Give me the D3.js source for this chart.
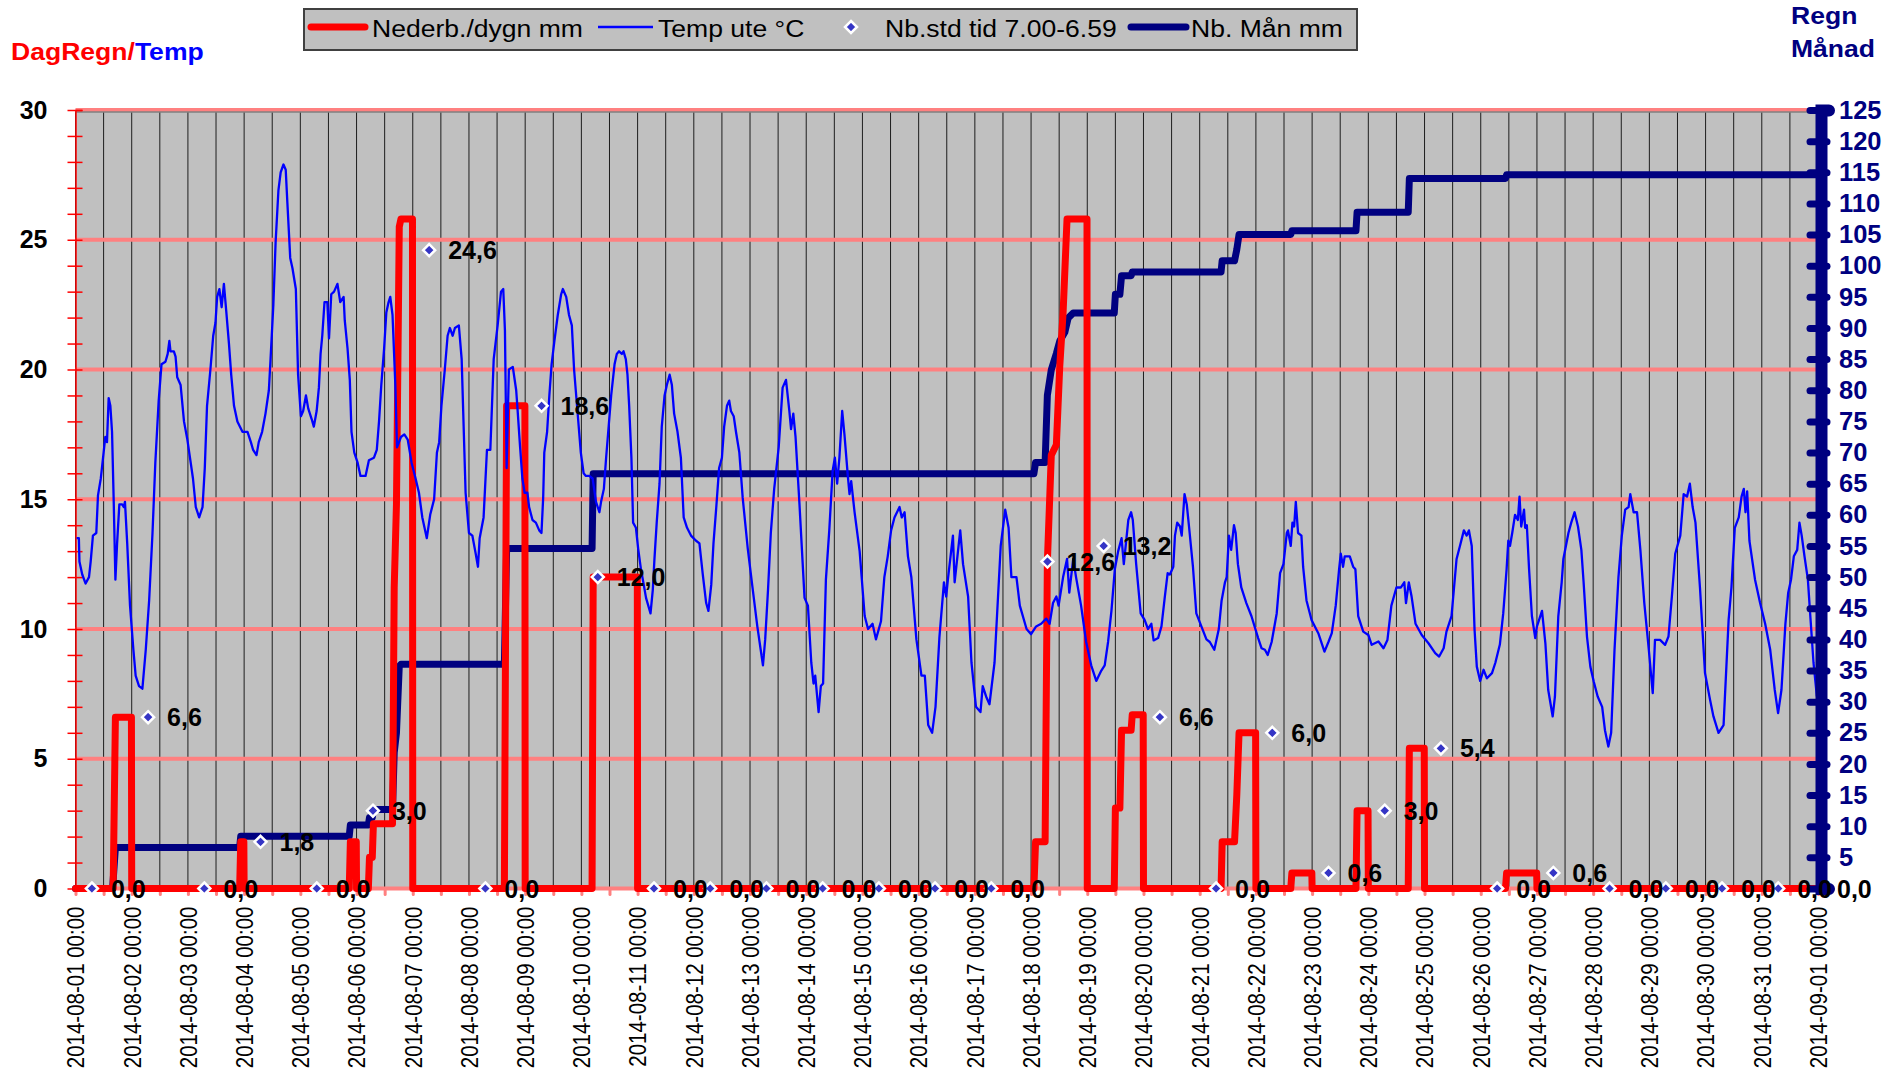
<!DOCTYPE html>
<html><head><meta charset="utf-8">
<script src="https://cdn.jsdelivr.net/npm/d3@7"></script>
<style>body{margin:0;background:#fff;overflow:hidden} svg{display:block}</style>
</head><body>
<svg id="chart" width="1901" height="1075"></svg>
<script>
// ---------------- DATA (time = days since 2014-08-01 00:00) ----------------
const periodStart = "2014-08-01";
const periodEnd = "2014-09-01";
const leftTicks = [0, 5, 10, 15, 20, 25, 30];
const rightTicks = d3.range(0, 130, 5);
const legendLabels = ["Nederb./dygn mm", "Temp ute °C", "Nb.std tid 7.00-6.59", "Nb. Mån mm"];
const leftTitle = ["DagRegn/", "Temp"];
const rightTitle = ["Regn", "Månad"];

// daily rain totals 7.00-6.59, one per day (marker at 07:00; last one at period end)
const dailyTotals = [0.0, 6.6, 0.0, 1.8, 0.0, 3.0, 24.6, 0.0, 18.6, 12.0, 0.0, 0.0, 0.0, 0.0, 0.0, 0.0,
  0.0, 12.6, 13.2, 6.6, 0.0, 6.0, 0.6, 3.0, 5.4, 0.0, 0.6, 0.0, 0.0, 0.0, 0.0, 0.0];

// rain accumulated within each day (mm), left axis
const dailyRain = [
  [0,0],[0.67,0],[0.71,6.6],[0.995,6.6],[1.0,0],
  [2.92,0],[2.94,1.8],[2.995,1.8],[3.0,0],
  [4.87,0],[4.89,1.8],[4.995,1.8],[5.0,0],
  [5.21,0],[5.23,1.2],[5.28,1.2],[5.30,2.5],[5.64,2.5],[5.67,11.6],[5.71,14.8],[5.76,25.5],[5.79,25.8],[5.995,25.8],[6.0,0],
  [7.63,0],[7.67,18.6],[7.995,18.6],[8.0,0],
  [9.19,0],[9.21,12.0],[9.995,12.0],[10.0,0],
  [17.05,0],[17.08,1.8],[17.25,1.8],[17.29,12.6],[17.36,16.7],[17.45,17.1],[17.51,20.1],[17.57,22.2],[17.64,25.8],[17.995,25.8],[18.0,0],
  [18.48,0],[18.50,3.1],[18.58,3.1],[18.61,6.1],[18.78,6.1],[18.80,6.7],[18.995,6.7],[19.0,0],
  [20.38,0],[20.40,1.8],[20.62,1.8],[20.66,3.6],[20.70,6.0],[20.995,6.0],[21.0,0],
  [21.62,0],[21.64,0.6],[21.995,0.6],[22.0,0],
  [22.78,0],[22.80,3.0],[22.995,3.0],[23.0,0],
  [23.71,0],[23.73,5.4],[23.995,5.4],[24.0,0],
  [25.44,0],[25.46,0.6],[25.995,0.6],[26.0,0],
  [31.0,0]
];

// rain accumulated over the month (mm), right axis
const monthRain = [
  [0,0],[0.66,0],[0.71,6.6],[2.92,6.6],[2.94,8.4],[4.87,8.4],[4.89,10.2],[5.21,10.2],[5.23,11.4],[5.28,11.4],
  [5.30,12.7],[5.64,12.7],[5.67,21.8],[5.71,25.0],[5.76,35.7],[5.79,36.0],
  [7.63,36.0],[7.67,54.6],[9.19,54.6],[9.21,66.6],
  [17.05,66.6],[17.08,68.4],[17.25,68.4],[17.29,79.2],[17.36,83.3],[17.45,85.9],[17.51,87.9],[17.60,89.3],[17.66,91.6],[17.75,92.4],
  [18.48,92.4],[18.50,95.4],[18.58,95.4],[18.61,98.4],[18.78,98.4],[18.80,99.0],
  [20.38,99.0],[20.40,100.8],[20.62,100.8],[20.66,102.6],[20.70,105.0],
  [21.62,105.0],[21.64,105.6],[22.78,105.6],[22.80,108.6],[23.71,108.6],[23.73,114.0],[25.44,114.0],[25.46,114.6],[31.0,114.6]
];

// outdoor temperature (°C), left axis
const temperature = [
  [0.02,13.5],[0.06,13.5],[0.07,12.6],[0.12,12.1],[0.18,11.75],[0.24,12.0],[0.27,12.6],[0.31,13.6],[0.37,13.7],[0.40,15.15],[0.45,15.8],[0.50,16.8],[0.53,17.4],[0.56,17.2],[0.59,18.9],[0.62,18.6],[0.65,17.6],[0.68,14.9],[0.71,11.9],[0.74,13.3],[0.78,14.8],[0.83,14.8],[0.86,14.7],[0.88,14.9],[0.92,13.3],[0.97,10.9],
  [1.03,9.2],[1.07,8.2],[1.13,7.8],[1.19,7.7],[1.25,9.2],[1.31,11.1],[1.37,13.7],[1.42,16.4],[1.48,18.8],[1.53,20.2],[1.60,20.3],[1.64,20.6],[1.67,21.1],[1.69,20.7],[1.75,20.7],[1.78,20.5],[1.81,19.7],[1.87,19.4],[1.93,18.0],[1.99,17.3],
  [2.05,16.4],[2.09,15.8],[2.14,14.7],[2.20,14.3],[2.26,14.7],[2.30,16.2],[2.34,18.6],[2.40,20.0],[2.45,21.3],[2.49,21.8],[2.52,22.8],[2.56,23.1],[2.60,22.4],[2.64,23.3],[2.68,22.3],[2.73,21.0],[2.77,19.8],[2.82,18.6],[2.88,18.0],[2.97,17.6],
  [3.06,17.6],[3.12,17.2],[3.16,16.9],[3.22,16.7],[3.26,17.2],[3.32,17.6],[3.38,18.3],[3.44,19.2],[3.47,20.4],[3.52,22.5],[3.56,24.9],[3.61,26.9],[3.65,27.6],[3.70,27.9],[3.74,27.7],[3.77,26.4],[3.82,24.3],[3.86,23.9],[3.92,23.1],[3.96,19.8],
  [4.01,18.2],[4.05,18.4],[4.10,19.0],[4.14,18.5],[4.20,18.1],[4.24,17.8],[4.29,18.4],[4.33,19.3],[4.36,20.6],[4.39,21.3],[4.43,22.6],[4.48,22.6],[4.51,21.2],[4.55,22.9],[4.60,23.0],[4.66,23.3],[4.71,22.6],[4.77,22.8],[4.79,21.9],[4.84,20.8],[4.88,19.6],[4.91,17.6],[4.96,16.8],
  [5.02,16.4],[5.07,15.9],[5.16,15.9],[5.22,16.5],[5.31,16.6],[5.36,16.9],[5.40,18.0],[5.44,19.4],[5.49,20.8],[5.53,22.2],[5.57,22.6],[5.60,22.8],[5.64,22.1],[5.69,19.4],[5.72,17.0],[5.79,17.4],[5.85,17.5],[5.91,17.3],[5.98,16.4],
  [6.05,15.8],[6.11,15.25],[6.17,14.3],[6.25,13.5],[6.31,14.4],[6.38,15.0],[6.43,16.8],[6.47,17.2],[6.51,18.6],[6.57,20.0],[6.62,21.3],[6.66,21.6],[6.71,21.3],[6.75,21.6],[6.82,21.7],[6.87,20.4],[6.94,15.25],
  [7.00,13.7],[7.06,13.6],[7.12,12.9],[7.16,12.4],[7.19,13.5],[7.26,14.3],[7.32,16.9],[7.38,16.9],[7.44,20.4],[7.51,21.7],[7.57,23.0],[7.61,23.1],[7.64,21.5],[7.67,16.2],[7.71,20.0],[7.78,20.1],[7.84,19.2],[7.86,18.6],[7.91,17.0],[7.95,15.8],[7.99,15.25],
  [8.04,15.25],[8.07,14.7],[8.13,14.2],[8.19,14.1],[8.25,13.8],[8.29,13.7],[8.32,15.05],[8.34,16.8],[8.39,17.6],[8.43,19.0],[8.47,20.2],[8.52,21.1],[8.58,22.1],[8.64,22.9],[8.67,23.1],[8.73,22.8],[8.78,22.1],[8.83,21.7],[8.87,20.0],[8.93,18.4],[8.99,16.8],
  [9.04,16.0],[9.08,15.9],[9.14,15.9],[9.20,15.8],[9.26,14.9],[9.32,14.5],[9.35,14.9],[9.40,15.4],[9.44,16.6],[9.47,17.4],[9.53,19.0],[9.59,20.2],[9.63,20.6],[9.67,20.7],[9.72,20.6],[9.75,20.7],[9.79,20.4],[9.82,19.8],[9.85,18.6],[9.89,16.6],[9.92,14.1],[9.97,13.9],
  [10.01,13.1],[10.06,12.3],[10.11,11.7],[10.15,11.2],[10.19,10.9],[10.23,10.6],[10.27,11.5],[10.30,12.7],[10.34,14.1],[10.39,15.6],[10.43,17.8],[10.48,19.0],[10.52,19.4],[10.57,19.8],[10.61,19.4],[10.65,18.3],[10.71,17.6],[10.77,16.6],[10.82,14.3],[10.88,13.9],[10.95,13.6],
  [11.04,13.4],[11.10,13.3],[11.16,12.1],[11.22,11.0],[11.26,10.7],[11.31,11.7],[11.35,13.3],[11.40,14.7],[11.45,16.2],[11.50,16.6],[11.54,17.8],[11.59,18.6],[11.63,18.8],[11.66,18.4],[11.71,18.2],[11.75,17.6],[11.81,16.8],[11.87,15.05],[11.96,13.1],
  [12.05,11.5],[12.13,10.1],[12.19,9.2],[12.23,8.6],[12.27,9.6],[12.32,11.5],[12.37,13.7],[12.43,15.4],[12.51,17.0],[12.58,19.3],[12.64,19.6],[12.70,18.4],[12.73,17.7],[12.77,18.3],[12.81,17.4],[12.88,14.8],[12.97,11.2],
  [13.03,10.9],[13.09,8.7],[13.13,7.9],[13.16,8.2],[13.22,6.8],[13.26,7.8],[13.30,7.9],[13.35,11.9],[13.41,13.8],[13.47,16.1],[13.51,16.6],[13.55,15.6],[13.59,16.6],[13.64,18.4],[13.68,17.5],[13.74,15.9],[13.77,15.2],[13.80,15.7],[13.86,14.5],[13.95,13.0],
  [14.04,10.5],[14.10,10.0],[14.18,10.2],[14.24,9.6],[14.33,10.3],[14.39,12.0],[14.45,12.8],[14.51,13.8],[14.57,14.3],[14.66,14.7],[14.70,14.3],[14.75,14.5],[14.81,12.8],[14.87,12.0],[14.96,9.6],
  [15.05,8.2],[15.11,8.2],[15.17,6.3],[15.24,6.0],[15.30,7.0],[15.37,9.7],[15.45,11.8],[15.49,11.25],[15.52,11.9],[15.61,13.6],[15.64,11.8],[15.69,12.8],[15.74,13.8],[15.79,12.5],[15.88,11.25],[15.94,8.7],
  [16.02,7.0],[16.10,6.8],[16.14,7.8],[16.20,7.4],[16.26,7.1],[16.35,8.7],[16.46,13.2],[16.54,14.6],[16.60,13.9],[16.65,12.0],[16.74,12.0],[16.80,10.9],[16.92,10.0],
  [17.00,9.8],[17.09,10.1],[17.18,10.2],[17.27,10.4],[17.33,10.2],[17.39,11.0],[17.45,11.25],[17.49,10.9],[17.57,12.0],[17.64,12.7],[17.68,11.4],[17.75,12.7],[17.80,12.0],[17.89,10.9],[17.98,9.5],
  [18.07,8.6],[18.16,8.0],[18.25,8.4],[18.31,8.6],[18.37,9.5],[18.43,10.7],[18.49,12.3],[18.55,13.0],[18.61,13.5],[18.65,12.5],[18.73,14.2],[18.78,14.5],[18.81,14.2],[18.87,12.5],[18.95,10.6],
  [19.02,10.35],[19.08,10.0],[19.14,10.2],[19.18,9.56],[19.26,9.65],[19.32,10.1],[19.38,11.25],[19.43,12.15],[19.47,12.1],[19.53,12.4],[19.56,13.6],[19.60,14.1],[19.65,13.95],[19.68,13.6],[19.73,15.2],[19.77,14.8],[19.81,13.95],[19.88,12.4],[19.94,10.6],
  [20.03,10.1],[20.12,9.6],[20.18,9.5],[20.26,9.2],[20.34,10.0],[20.39,11.1],[20.45,11.8],[20.48,12.0],[20.52,13.6],[20.56,13.05],[20.61,14.0],[20.64,13.7],[20.68,12.5],[20.74,11.6],[20.83,11.0],[20.92,10.5],
  [21.04,9.65],[21.10,9.26],[21.16,9.2],[21.21,9.0],[21.28,9.5],[21.37,10.6],[21.43,12.15],[21.49,12.5],[21.55,13.7],[21.57,13.8],[21.62,13.2],[21.65,14.1],[21.68,13.95],[21.71,14.9],[21.75,13.7],[21.81,13.6],[21.84,12.4],[21.90,11.1],[21.99,10.35],
  [22.11,9.84],[22.22,9.13],[22.29,9.5],[22.35,9.84],[22.42,10.9],[22.48,12.3],[22.51,12.9],[22.55,12.4],[22.58,12.8],[22.67,12.8],[22.73,12.4],[22.77,12.3],[22.82,10.5],[22.91,9.9],
  [23.00,9.77],[23.06,9.39],[23.18,9.52],[23.27,9.26],[23.34,9.58],[23.41,10.9],[23.50,11.6],[23.58,11.6],[23.64,11.8],[23.67,11.0],[23.72,11.8],[23.77,11.25],[23.84,10.2],[23.95,9.77],
  [24.07,9.45],[24.19,9.07],[24.26,8.94],[24.34,9.26],[24.39,9.9],[24.48,10.5],[24.57,12.7],[24.63,13.2],[24.70,13.8],[24.75,13.6],[24.79,13.8],[24.84,13.2],[24.89,9.97],[24.93,8.55],[24.99,8.0],
  [25.05,8.43],[25.11,8.1],[25.20,8.3],[25.26,8.7],[25.34,9.4],[25.40,10.6],[25.46,12.3],[25.49,13.4],[25.52,13.2],[25.56,13.7],[25.61,14.4],[25.66,14.2],[25.69,15.1],[25.72,13.95],[25.77,14.6],[25.79,13.9],[25.82,14.0],[25.86,12.3],[25.91,10.5],[25.97,9.65],
  [26.00,10.1],[26.09,10.7],[26.15,9.45],[26.20,7.66],[26.28,6.63],[26.32,7.4],[26.38,10.5],[26.44,11.8],[26.47,12.7],[26.56,13.7],[26.61,14.1],[26.67,14.5],[26.73,13.95],[26.79,13.05],[26.83,11.8],[26.89,9.71],[26.95,8.55],
  [27.01,7.98],[27.08,7.4],[27.16,7.0],[27.21,6.1],[27.27,5.47],[27.32,6.0],[27.38,9.2],[27.45,12.0],[27.51,13.6],[27.57,14.6],[27.63,14.7],[27.66,15.2],[27.72,14.5],[27.78,14.5],[27.84,13.05],[27.91,11.0],[27.99,9.2],
  [28.06,7.53],[28.10,9.58],[28.19,9.58],[28.28,9.39],[28.34,9.71],[28.40,11.25],[28.46,12.9],[28.55,13.6],[28.61,15.2],[28.67,15.1],[28.72,15.6],[28.77,14.7],[28.82,14.1],[28.90,11.6],[28.99,8.3],
  [29.08,7.27],[29.14,6.63],[29.23,6.0],[29.32,6.3],[29.41,10.35],[29.46,11.6],[29.52,13.9],[29.59,14.3],[29.64,15.1],[29.68,15.4],[29.71,14.5],[29.74,15.3],[29.78,13.4],[29.88,11.9],[29.97,11.0],
  [30.06,10.2],[30.15,9.2],[30.23,7.66],[30.29,6.76],[30.35,7.66],[30.42,10.2],[30.47,11.4],[30.52,11.9],[30.57,12.8],[30.63,13.05],[30.67,14.1],[30.71,13.6],[30.76,12.8],[30.82,11.9],[30.86,10.6],[30.92,8.7],[30.98,7.4]
];

// ---------------- LAYOUT ----------------
const plot = {left: 75.5, right: 1818, top: 110, bottom: 888.5};
const C = {red: "#ff0000", blue: "#0000ff", navy: "#000080", grid: "#ff8080", bg: "#c0c0c0", marker: "#3535c5"};
const FONT = "'Liberation Sans', Arial, sans-serif";
const STRETCH = 1.13;

const svg = d3.select("#chart");
const t0 = new Date(periodStart + "T00:00:00Z");
const t1 = new Date(periodEnd + "T00:00:00Z");
const toDate = d => new Date(t0.getTime() + d * 864e5);

const x = d3.scaleUtc().domain([t0, t1]).range([plot.left, plot.right]);
const yL = d3.scaleLinear().domain([0, 30]).range([plot.bottom, plot.top]);
const yR = d3.scaleLinear().domain([0, 125]).range([plot.bottom, plot.top]);
const commaFmt = v => d3.format(".1f")(v).replace(".", ",");

// plot background
svg.append("rect").attr("x", plot.left).attr("y", plot.top)
  .attr("width", plot.right - plot.left).attr("height", plot.bottom - plot.top).attr("fill", C.bg);

// vertical grid every 12 hours
const halfDays = d3.utcHour.every(12).range(t0, d3.utcHour.offset(t1, 1));
svg.append("g").selectAll("line").data(halfDays).join("line")
  .attr("x1", d => x(d)).attr("x2", d => x(d)).attr("y1", plot.top).attr("y2", plot.bottom)
  .attr("stroke", "#000").attr("stroke-opacity", 0.85).attr("stroke-width", 1);

// horizontal pink grid
svg.append("g").selectAll("line").data(leftTicks).join("line")
  .attr("x1", plot.left).attr("x2", plot.right).attr("y1", d => yL(d)).attr("y2", d => yL(d))
  .attr("stroke", C.grid).attr("stroke-width", 4);

// plot border (top)
svg.append("line").attr("x1", plot.left).attr("x2", plot.right).attr("y1", plot.top + 2).attr("y2", plot.top + 2)
  .attr("stroke", "#808080").attr("stroke-width", 1.5);

// bottom axis pink ticks (every 12h)
const xMinor = d3.axisBottom(x).tickValues(halfDays).tickSize(6).tickFormat("");
const gxm = svg.append("g").attr("transform", `translate(0,${plot.bottom})`).call(xMinor);
gxm.select(".domain").remove();
gxm.selectAll(".tick line").attr("stroke", C.grid).attr("stroke-width", 3).attr("stroke-linecap", "round");

// left axis
const leftMinorR = d3.axisLeft(yL).tickValues(d3.range(0, 31)).tickSize(-7).tickFormat("");
const gl2 = svg.append("g").attr("transform", `translate(${plot.left},0)`).call(leftMinorR);
gl2.select(".domain").attr("stroke", C.red).attr("stroke-width", 1.5);
gl2.selectAll(".tick line").attr("stroke", C.red).attr("stroke-width", 1.5);
const leftMinorL = d3.axisLeft(yL).tickValues(d3.range(0, 31)).tickSize(8).tickFormat("");
const gl1 = svg.append("g").attr("transform", `translate(${plot.left},0)`).call(leftMinorL);
gl1.select(".domain").remove();
gl1.selectAll(".tick line").attr("stroke", C.red).attr("stroke-width", 1.5);
const leftAxis = d3.axisLeft(yL).tickValues(leftTicks).tickSize(0).tickPadding(28).tickFormat(d3.format("d"));
const gl = svg.append("g").attr("transform", `translate(${plot.left},0)`).call(leftAxis);
gl.select(".domain").remove();
gl.selectAll("text").attr("font-family", FONT).attr("font-weight", "bold").attr("font-size", 25).attr("fill", "#000");

// series
const lineR = d3.line().x(d => x(toDate(d[0]))).y(d => yR(d[1]));
const lineL = d3.line().x(d => x(toDate(d[0]))).y(d => yL(d[1]));
svg.append("path").datum(monthRain).attr("d", lineR).attr("fill", "none")
  .attr("stroke", C.navy).attr("stroke-width", 7).attr("stroke-linejoin", "round").attr("stroke-linecap", "round");
svg.append("path").datum(dailyRain).attr("d", lineL).attr("fill", "none")
  .attr("stroke", C.red).attr("stroke-width", 7).attr("stroke-linejoin", "round").attr("stroke-linecap", "round");
svg.append("path").datum(temperature).attr("d", lineL).attr("fill", "none")
  .attr("stroke", C.blue).attr("stroke-width", 2.3).attr("stroke-linejoin", "round");

// daily total markers
const markerData = dailyTotals.map((v, i) => ({t: Math.min(i + 7 / 24, 31), v}));
const diamond = s => `M0,${-s}L${s},0L0,${s}L${-s},0Z`;
const gm = svg.append("g");
gm.selectAll("path").data(markerData.filter(d => d.t < 31)).join("path")
  .attr("d", diamond(6))
  .attr("transform", d => `translate(${x(toDate(d.t))},${yL(d.v)})`)
  .attr("fill", C.marker).attr("stroke", "#fff").attr("stroke-width", 2.5);

// right axis (zero label is covered by the last daily-total label "0,0")
const rightAxis = d3.axisRight(yR).tickValues(rightTicks).tickSize(8).tickPadding(10)
  .tickFormat(d => d === 0 ? "" : d3.format("d")(d));
const gr = svg.append("g").attr("transform", `translate(1821,0)`).call(rightAxis);
gr.select(".domain").attr("stroke", C.navy).attr("stroke-width", 12).attr("stroke-linecap", "round");
gr.selectAll(".tick line").attr("x1", -11).attr("x2", 6).attr("stroke", C.navy).attr("stroke-width", 7).attr("stroke-linecap", "round");
gr.selectAll("text").attr("font-family", FONT).attr("font-weight", "bold").attr("font-size", 25.5).attr("fill", C.navy);

// daily total labels
const gt = svg.append("g");
gt.selectAll("text").data(markerData).join("text")
  .attr("x", d => x(toDate(d.t)) + 19).attr("y", d => yL(d.v)).attr("dy", "0.36em")
  .attr("font-family", FONT).attr("font-weight", "bold").attr("font-size", 25).attr("fill", "#000")
  .text(d => commaFmt(d.v));

// x axis labels
const xAxis = d3.axisBottom(x).tickValues(d3.utcDay.every(1).range(t0, d3.utcHour.offset(t1, 1)))
  .tickSize(0).tickFormat(d3.utcFormat("%Y-%m-%d %H:%M"));
const gx = svg.append("g").attr("transform", `translate(0,${plot.bottom})`).call(xAxis);
gx.select(".domain").remove();
gx.selectAll("text").attr("x", 0).attr("y", 0).attr("dy", "0.36em")
  .attr("text-anchor", "end")
  .attr("transform", `translate(0,18) scale(${STRETCH},1) rotate(-90)`)
  .attr("font-family", FONT).attr("font-size", 20.5).attr("fill", "#000");

// stretched text helper
function stext(g, x0, y0, size, weight) {
  return g.append("text").attr("transform", `translate(${x0},${y0}) scale(${STRETCH},1)`)
    .attr("font-family", FONT).attr("font-size", size).attr("font-weight", weight);
}

// titles
const tl = stext(svg, 11, 60, 23.5, "bold");
tl.append("tspan").attr("fill", C.red).text(leftTitle[0]);
tl.append("tspan").attr("fill", C.blue).text(leftTitle[1]);
stext(svg, 1791, 23.5, 23.5, "bold").attr("fill", C.navy).text(rightTitle[0]);
stext(svg, 1791, 56.7, 23.5, "bold").attr("fill", C.navy).text(rightTitle[1]);

// legend
const lg = svg.append("g");
lg.append("rect").attr("x", 304).attr("y", 9).attr("width", 1053).attr("height", 41)
  .attr("fill", C.bg).attr("stroke", "#404040").attr("stroke-width", 2);
const legendY = 27;
lg.append("line").attr("x1", 311).attr("x2", 365).attr("y1", legendY).attr("y2", legendY)
  .attr("stroke", C.red).attr("stroke-width", 7).attr("stroke-linecap", "round");
stext(lg, 372, 37.3, 23.5, "normal").attr("fill", "#000").text(legendLabels[0]);
lg.append("line").attr("x1", 598).attr("x2", 653).attr("y1", legendY).attr("y2", legendY)
  .attr("stroke", C.blue).attr("stroke-width", 2.3);
stext(lg, 658, 37.3, 23.5, "normal").attr("fill", "#000").text(legendLabels[1]);
lg.append("path").attr("d", diamond(6)).attr("transform", `translate(851,${legendY})`)
  .attr("fill", C.marker).attr("stroke", "#fff").attr("stroke-width", 2.5);
stext(lg, 885, 37.3, 23.5, "normal").attr("fill", "#000").text(legendLabels[2]);
lg.append("line").attr("x1", 1131).attr("x2", 1186).attr("y1", legendY).attr("y2", legendY)
  .attr("stroke", C.navy).attr("stroke-width", 7).attr("stroke-linecap", "round");
stext(lg, 1191, 37.3, 23.5, "normal").attr("fill", "#000").text(legendLabels[3]);
</script>
</body></html>
